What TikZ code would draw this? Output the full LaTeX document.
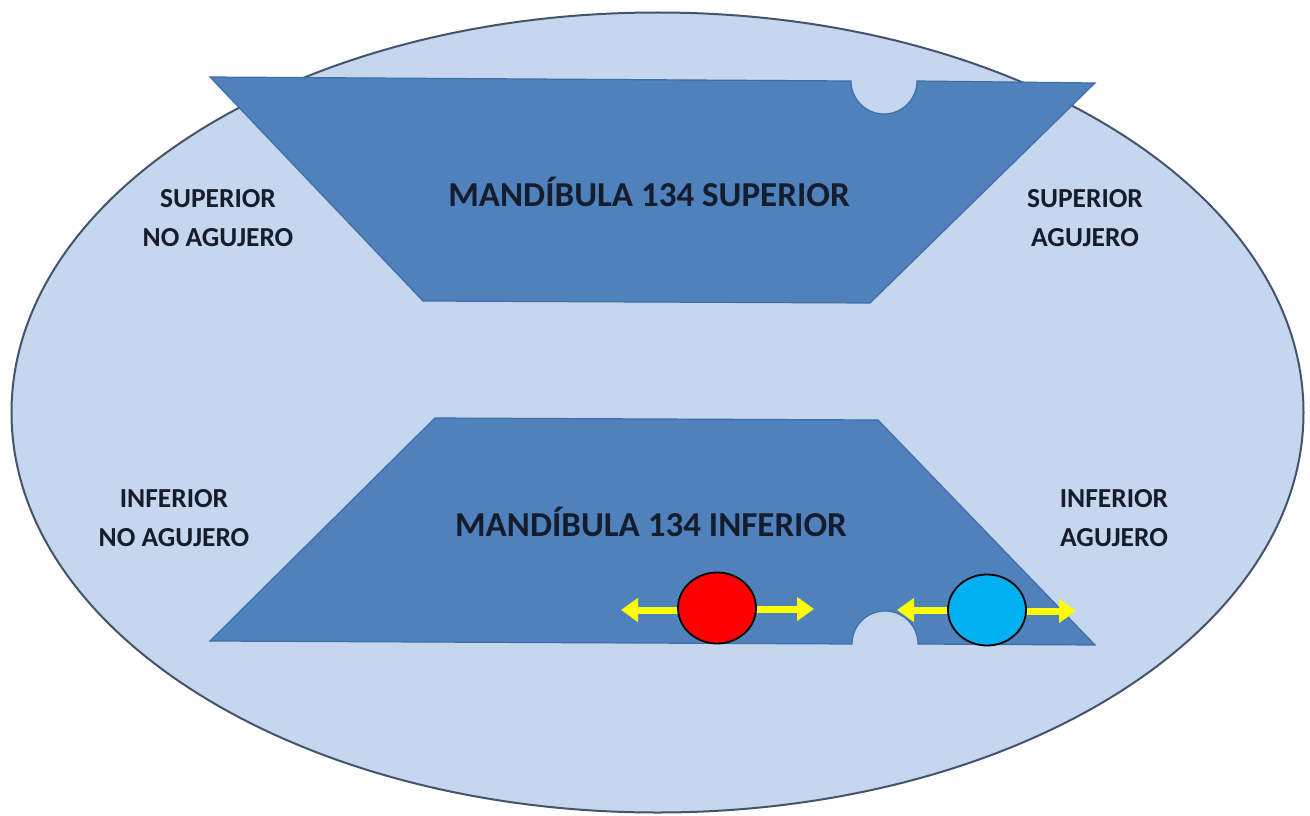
\documentclass[tikz,border=0pt]{standalone}
\usepackage{fontspec}
\setmainfont{Carlito}
\usetikzlibrary{arrows.meta,shapes.geometric}
\definecolor{bgell}{HTML}{C6D6EE}
\definecolor{ellline}{HTML}{44546A}
\definecolor{jawfill}{HTML}{4F81BD}
\definecolor{jawline}{HTML}{3F6EA6}
\definecolor{txt}{HTML}{151C2C}
\definecolor{redball}{HTML}{FF0000}
\definecolor{blueball}{HTML}{00B0F0}
\definecolor{arrowyellow}{HTML}{FFFF00}
\tikzset{
  jaw/.style={fill=jawfill, draw=jawline, line width=1.2pt, line join=miter},
  bigtxt/.style={font=\bfseries\fontsize{35}{38}\selectfont, text=txt, inner sep=0pt},
  sidetxt/.style={font=\bfseries\fontsize{27.5}{39}\selectfont, text=txt, align=center, inner sep=0pt},
  ball/.style={ellipse, draw=black, line width=1.8pt, minimum width=78pt, minimum height=71pt, inner sep=0pt},
  yarrow/.style={draw=arrowyellow, line width=7pt, -{Triangle[length=17pt,width=23pt]}}
}
\begin{document}
\begin{tikzpicture}[x=1pt,y=-1pt]
\useasboundingbox (0,0) rectangle (1310,816);
\fill[white] (0,0) rectangle (1310,816);
% big ellipse
\draw[fill=bgell, draw=ellline, line width=2pt] (657.5,412.5) ellipse [x radius=646pt, y radius=400pt];
% upper jaw
\draw[jaw] (210,77) -- (851,81) arc[start angle=180, end angle=360, radius=33pt] -- (1095,83) -- (870,303) -- (423,301) -- cycle;
% lower jaw
\draw[jaw] (435,418) -- (878,420) -- (1095,645) -- (918,644) arc[start angle=0, end angle=180, radius=33pt] -- (210,641) -- cycle;
% labels
\node[bigtxt] (sup) at (649,192) {MANDÍBULA 134 SUPERIOR};
\node[bigtxt] (inf) at (651,522) {MANDÍBULA 134 INFERIOR};
\node[sidetxt] (supno) at (218,218) {SUPERIOR\\NO AGUJERO};
\node[sidetxt] (supag) at (1085,218) {SUPERIOR\\AGUJERO};
\node[sidetxt] (infno) at (174,518) {INFERIOR\\NO AGUJERO};
\node[sidetxt] (infag) at (1114,518) {INFERIOR\\AGUJERO};
% balls and arrows
\coordinate (rl) at (621,610);
\coordinate (rr) at (814,609);
\coordinate (bl) at (897,610);
\coordinate (br) at (1076,611);
\draw[yarrow] (679,610) -- (rl);
\draw[yarrow] (755,609) -- (rr);
\draw[yarrow] (949,610) -- (bl);
\draw[yarrow] (1025,611) -- (br);
\node[ball, fill=redball] (red) at (717,608) {};
\node[ball, fill=blueball] (blue) at (987,610) {};
\end{tikzpicture}
\end{document}
